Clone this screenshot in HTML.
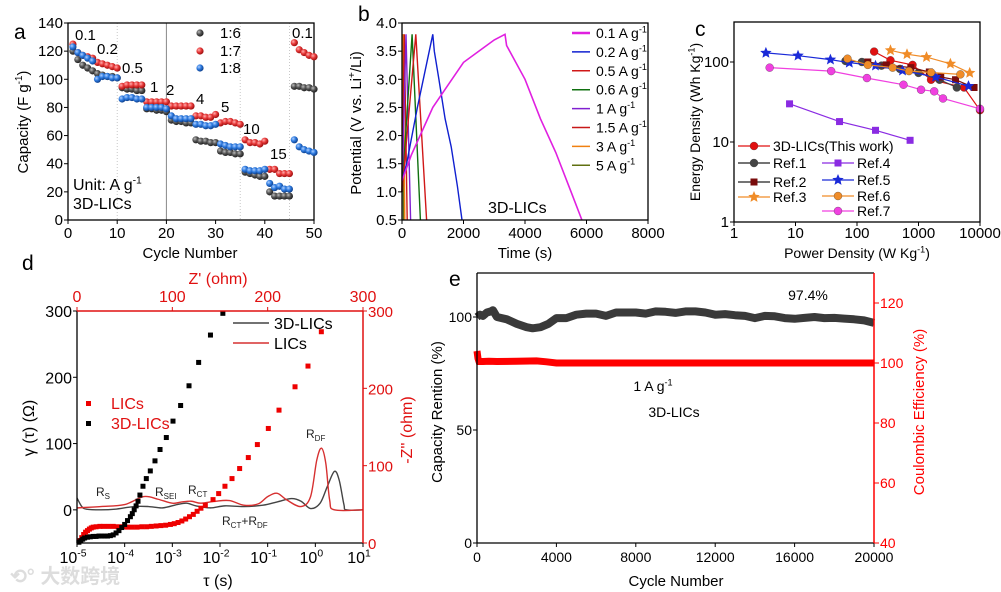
<!DOCTYPE html>
<html><head><meta charset="utf-8">
<style>
html,body{margin:0;padding:0;background:#fff;}
svg{display:block;font-family:"Liberation Sans","Noto Sans CJK SC",sans-serif;}
</style></head>
<body>
<svg id="fig" width="1001" height="592" viewBox="0 0 1001 592" xmlns="http://www.w3.org/2000/svg">
<defs>
<radialGradient id="gGray" cx="35%" cy="35%" r="65%"><stop offset="0" stop-color="#bbb"/><stop offset="0.5" stop-color="#555"/><stop offset="1" stop-color="#222"/></radialGradient>
<radialGradient id="gRed" cx="35%" cy="35%" r="65%"><stop offset="0" stop-color="#ffb0b0"/><stop offset="0.5" stop-color="#e83a3a"/><stop offset="1" stop-color="#a01010"/></radialGradient>
<radialGradient id="gBlue" cx="35%" cy="35%" r="65%"><stop offset="0" stop-color="#b0d0ff"/><stop offset="0.5" stop-color="#2e7be0"/><stop offset="1" stop-color="#10428f"/></radialGradient>
</defs>
</svg>
<script>
// ---------- DATA: panel a ----------
const aCycles=[1,2,3,4,5,6,7,8,9,10,11,12,13,14,15,16,17,18,19,20,21,22,23,24,25,26,27,28,29,30,31,32,33,34,35,36,37,38,39,40,41,42,43,44,45,46,47,48,49,50];
const a16=[120,114,110,108,106,104,103,102,102,101,94,93,93,92,92,79,79,78,78,77,71,70,70,69,69,57,56,56,55,55,49,48,48,47,47,34,33,32,31,31,20,17,17,17,17,95,95,94,94,93];
const a17=[125,119,117,116,115,112,111,110,109,108,95,96,96,96,96,84,84,84,84,84,81,81,81,81,81,74,74,73,73,75,69,70,70,69,68,57,55,55,54,56,36,36,33,33,33,126,121,119,117,116];
const a18=[123,119,117,115,113,100,102,102,101,101,86,87,87,86,86,80,80,80,80,79,74,72,72,72,72,68,68,67,67,68,54,53,52,52,52,36,35,35,35,36,26,23,24,22,22,57,52,50,49,48];
const aRateLabels=["0.1","0.2","0.5","1","2","4","5","10","15","0.1"];
const aXTicks=[0,10,20,30,40,50];
const aYTicks=[0,20,40,60,80,100,120,140];
// ---------- DATA: panel b ----------
const bNames=["0.1 A g","0.2 A g","0.5 A g","0.6 A g","1 A g","1.5 A g","3 A g","5 A g"];
const bColors=["#e020e0","#1020d0","#d01818","#107010","#8020d0","#c81818","#f08010","#607010"];
const bT=[[0,300,1000,1500,2000,2500,3000,3350,3400,4000,4500,5000,5500,5850],[0,150,500,1000,1050,1200,1400,1600,1800,1950],[0,450,800],[0,330,600],[0,130,280],[0,75,170],[0,40,90],[0,20,50]];
const bV=[[1.2,1.65,2.5,2.9,3.3,3.5,3.7,3.8,3.6,3.0,2.3,1.7,1.0,0.5],[1.2,1.5,2.5,3.8,3.5,3.0,2.3,1.8,1.1,0.5],[1.0,3.8,0.5],[1.0,3.8,0.5],[1.0,3.8,0.5],[1.0,3.8,0.5],[1.0,3.8,0.5],[1.0,3.8,0.5]];
const bXTicks=[0,2000,4000,6000,8000];
const bYTicks=[0.5,1.0,1.5,2.0,2.5,3.0,3.5,4.0];
// ---------- DATA: panel c ----------
const cNames=["3D-LICs(This work)","Ref.1","Ref.2","Ref.3","Ref.4","Ref.5","Ref.6","Ref.7"];
const cColors=["#e01010","#444444","#7a0c0c","#f08c28","#8a2be2","#1a2ad8","#f08c28","#f040e0"];
const cMarks=["circle","circle","square","star","square","star","circle","circle"];
const cP=[[190,350,800,1600,5500,10000],[65,120,250,500,1000,2200,4200],[150,300,750,1500,2300,4000,8000],[350,650,1350,3300,6800],[8,52,200,730],[3.3,11,37,75,200,550,1900,6500],[70,150,380,700,1600,4800],[3.8,38,145,570,1100,1800,2500,10000]];
const cE=[[135,105,92,60,48,25],[103,100,90,82,73,60,48],[100,92,85,75,65,60,48],[140,125,115,95,73],[30,18,14,10.5],[130,120,107,98,90,78,65,50],[110,92,85,77,74,70],[85,77,63,52,45,43,35,26]];
const cXTicks=[1,10,100,1000,10000];
const cYTicks=[1,10,100];
// ---------- DATA: panel d ----------
const dBlackZr=[2,4,6,8,11,14,17,20,23,26,29,32,35,38,41,44,47,50,53,56,58,60,62,64,66,69.2,72.7,76.9,81.8,87.1,93.7,100.7,108.7,117.5,127.6,140,153];
const dBlackZi=[1,3,5,6.5,7.5,8,8.5,8.5,9,9,9,9,9.5,10.5,13,16,20,24,29,34,38,43,48,54,62,73.4,83.3,93.2,106.2,120.9,136.4,157.6,177.8,203.3,233.5,268.9,297];
const dRedZr=[3,5,7,9,11,13,15,17,20,24,28,33,38,43,48,53,58,63,68,73,78,83,88,93,98,102,106,110,114,118,122,126,130,134.6,142.7,148.6,155.2,162.6,170.6,179.7,189.2,200.7,211.9,228.7,242.3,256.3];
const dRedZi=[3,7,11,14,16,18,19.5,20.5,21,21.5,21.5,21.5,21.5,21,21,20.5,20.5,20.5,21,21,21.5,22,22.5,23,24,25,26.5,28.5,31,34,37,41,45,48.8,56.1,63.9,73.4,83.3,96.3,110.5,127.3,148.1,171.8,202,228.8,273.2];
const dBlkLogT=[-5,-4.9,-4.8,-4.5,-4.2,-3.8,-3.5,-3.2,-2.9,-2.7,-2.5,-2.2,-1.9,-1.5,-1.1,-0.8,-0.5,-0.3,-0.1,0.1,0.25,0.4,0.5,0.6,0.65,1];
const dBlkG=[18,5,1,0,1,5,5,3,8,10,6,3,6,5,7,12,17,13,2,10,35,58,45,8,0,0];
const dRedLogT=[-5,-4.5,-4,-3.6,-3.3,-3,-2.8,-2.6,-2.4,-2.1,-1.8,-1.5,-1.2,-1,-0.8,-0.6,-0.3,-0.1,0.03,0.13,0.22,0.3,0.4,1];
const dRedG=[3,5,8,20,16,10,12,13,10,13,14,7,9,20,25,15,5,20,75,93,70,15,0,0];
const dLeftTicks=[0,100,200,300];
const dRightTicks=[0,100,200,300];
const dTopTicks=[0,100,200,300];
const dBottomExp=[-5,-4,-3,-2,-1,0,1];
// ---------- DATA: panel e ----------
const eCycles=[0,150,300,500,700,800,1000,1500,2000,2500,2800,3200,3600,4000,4500,5000,5500,6000,6500,7000,7500,8000,8500,9000,9500,10000,10500,11000,11500,12000,12500,13000,13500,14000,14500,15000,15500,16000,16500,17000,17500,18000,18500,19000,19500,20000];
const eRet=[100,101,100.5,102,102.5,103,100,99,97,95.5,95,95.5,97,99.5,99.5,101,101.5,101.5,100.5,102,102,102,101.5,102.5,102.3,101.8,102.5,102.5,102,101,101.3,100.8,100.5,99.5,100.5,100.3,99.5,99.2,99.6,100,99.5,99.6,99.3,99,98.5,97.4];
const eCECycles=[0,50,100,300,600,1000,2000,3000,3500,4000,6000,8000,10000,12000,14000,16000,18000,20000];
const eCE=[104,101.5,100.5,100.5,100.6,100.5,100.6,100.7,100.4,100,100,100,100,100,100,100,100,100];
const eXTicks=[0,4000,8000,12000,16000,20000];
const eLeftTicks=[0,50,100];
const eRightTicks=[40,60,80,100,120];

// ---------- helpers ----------
const NS="http://www.w3.org/2000/svg";
const svg=document.getElementById('fig');
function mk(tag,attrs,parent){const e=document.createElementNS(NS,tag);for(const k in attrs)e.setAttribute(k,attrs[k]);(parent||svg).appendChild(e);return e;}
function lin(d0,d1,r0,r1){return v=>r0+(v-d0)/(d1-d0)*(r1-r0);}
function group(name){const g=mk('g',{});return g;}
function label(g,x,y,s,size,anchor,fill,name,extra){
  const t=mk('text',Object.assign({x:x,y:y,'font-size':size,'text-anchor':anchor||'start',fill:fill||'#000'},extra||{}),g);
  t.textContent=s;
  
  
  return t;
}
function supLabel(g,x,y,base,sup,tail,size,anchor,fill,name,rot){
  const attrs={x:x,y:y,'font-size':size,'text-anchor':anchor||'start',fill:fill||'#000'};
  if(rot)attrs.transform=rot;
  const t=mk('text',attrs,g);
  
  
  const a=mk('tspan',{},t);a.textContent=base;
  const b=mk('tspan',{dy:-size*0.4,'font-size':size*0.65},t);b.textContent=sup;
  if(tail){const c=mk('tspan',{dy:size*0.4},t);c.textContent=tail;}
  return t;
}
function smooth(pts){let d='M'+pts[0][0]+','+pts[0][1];for(let i=0;i<pts.length-1;i++){const p0=pts[Math.max(0,i-1)],p1=pts[i],p2=pts[i+1],p3=pts[Math.min(pts.length-1,i+2)];const c1=[p1[0]+(p2[0]-p0[0])/6,p1[1]+(p2[1]-p0[1])/6];const c2=[p2[0]-(p3[0]-p1[0])/6,p2[1]-(p3[1]-p1[1])/6];d+=' C'+c1[0]+','+c1[1]+' '+c2[0]+','+c2[1]+' '+p2[0]+','+p2[1];}return d;}
function star(cx,cy,r){let p=[];for(let i=0;i<10;i++){const rr=i%2?r*0.45:r;const a=-Math.PI/2+i*Math.PI/5;p.push((cx+rr*Math.cos(a)).toFixed(1)+','+(cy+rr*Math.sin(a)).toFixed(1));}return p.join(' ');}

// ================= PANEL A =================
(function(){
const g=group('panel-a');
const L=68,R=314,T=23,B=220;
const xa=lin(0,50,L,R), ya=lin(0,140,B,T);
label(g,14,39,'a',21,'start','#000','panel-a-letter');
[10,35,45].forEach(c=>{const l=mk('line',{x1:xa(c),x2:xa(c),y1:T,y2:B,stroke:'#bbb','stroke-width':0.8,'stroke-dasharray':'1,2'},g);});
const dv=mk('line',{x1:xa(20),x2:xa(20),y1:T,y2:B,stroke:'#888','stroke-width':1},g);


const fr=mk('rect',{x:L,y:T,width:R-L,height:B-T,fill:'none',stroke:'#000','stroke-width':1.3},g);


aXTicks.forEach(v=>{const l=mk('line',{x1:xa(v),x2:xa(v),y1:B,y2:B+4,stroke:'#000'},g);label(g,xa(v),238,String(v),15,'middle','#000','x-tick-label');});
aYTicks.forEach(v=>{const l=mk('line',{x1:L-4,x2:L,y1:ya(v),y2:ya(v),stroke:'#000'},g);label(g,L-5,ya(v)+5,String(v),15,'end','#000','y-tick-label');});
supLabel(g,0,0,'Capacity (F g','-1',')',15,'middle','#000','y-axis-title','translate(28,122) rotate(-90)');
label(g,190,258,'Cycle Number',15,'middle','#000','x-axis-title');
const series=[[a16,'url(#gGray)','series-1-6'],[a17,'url(#gRed)','series-1-7'],[a18,'url(#gBlue)','series-1-8']];
series.forEach(s=>{aCycles.forEach((c,i)=>{const m=mk('circle',{cx:xa(c),cy:ya(s[0][i]),r:3.6,fill:s[1]},g);});});
const rl=[[75,40],[97,54],[122,73],[150,92],[166,95],[196,104],[221,112],[243,134],[270,159],[292,38]];
aRateLabels.forEach((s,i)=>label(g,rl[i][0],rl[i][1],s,15,'start','#000','rate-label'));
const lg=[['1:6','url(#gGray)',33],['1:7','url(#gRed)',51],['1:8','url(#gBlue)',68]];
lg.forEach(e=>{const m=mk('circle',{cx:200,cy:e[2],r:3.6,fill:e[1]},g);label(g,220,e[2]+5,e[0],15,'start','#000','legend-entry');});
supLabel(g,73,190,'Unit: A g','-1','',16,'start','#000','unit-label');
label(g,73,209,'3D-LICs',16,'start','#000','sample-label-a');
})();

// ================= PANEL B =================
(function(){
const g=group('panel-b');
const L=402,R=648,T=23,B=220;
const xb=lin(0,8000,L,R), yb=lin(0.5,4,B,T);
label(g,358,21,'b',21,'start','#000','panel-b-letter');
for(let i=bT.length-1;i>=0;i--){const pts=bT[i].map((t,j)=>xb(t).toFixed(1)+','+yb(bV[i][j]).toFixed(1)).join(' ');const p=mk('polyline',{points:pts,fill:'none',stroke:bColors[i],'stroke-width':i==0?1.6:1.4},g);}
const fr=mk('rect',{x:L,y:T,width:R-L,height:B-T,fill:'none',stroke:'#000','stroke-width':1.3},g);


bXTicks.forEach(v=>{const l=mk('line',{x1:xb(v),x2:xb(v),y1:B,y2:B+4,stroke:'#000'},g);label(g,xb(v),238,String(v),15,'middle','#000','x-tick-label');});
bYTicks.forEach(v=>{const l=mk('line',{x1:L-4,x2:L,y1:yb(v),y2:yb(v),stroke:'#000'},g);label(g,L-5,yb(v)+5,v.toFixed(1),15,'end','#000','y-tick-label');});
const yt=mk('text',{transform:'translate(361,123) rotate(-90)','font-size':15,'text-anchor':'middle'},g);


yt.innerHTML='<tspan>Potential  (V vs. Li</tspan><tspan dy="-6" font-size="10">+</tspan><tspan dy="6">/Li)</tspan>';
label(g,525,258,'Time (s)',15,'middle','#000','x-axis-title');
label(g,488,213,'3D-LICs',16,'start','#000','sample-label-b');
bNames.forEach((n,i)=>{const y=33+i*18.9;const l=mk('line',{x1:572,x2:590,y1:y,y2:y,stroke:bColors[i],'stroke-width':i==0?2.5:1.5},g);supLabel(g,596,y+5,n,'-1','',14,'start','#000','legend-entry');});
})();

// ================= PANEL C =================
(function(){
const g=group('panel-c');
const L=734,R=980,T=22,B=222;
const xc=v=>L+Math.log10(v)*61.5, yc=v=>B-Math.log10(v)*80;
label(g,695,36,'c',21,'start','#000','panel-c-letter');
function marker(kind,x,y,col,parent){let m;if(kind=='circle')m=mk('circle',{cx:x,cy:y,r:4,fill:col,stroke:'#333','stroke-width':0.3},parent);else if(kind=='square')m=mk('rect',{x:x-3.5,y:y-3.5,width:7,height:7,fill:col},parent);else m=mk('polygon',{points:star(x,y,6),fill:col},parent);return m;}
cP.forEach((arr,i)=>{const pts=arr.map((p,j)=>xc(p).toFixed(1)+','+yc(cE[i][j]).toFixed(1)).join(' ');const pl=mk('polyline',{points:pts,fill:'none',stroke:cColors[i],'stroke-width':1.2},g);arr.forEach((p,j)=>{const m=marker(cMarks[i],xc(p),yc(cE[i][j]),cColors[i],g);});});
const fr=mk('rect',{x:L,y:T,width:R-L,height:B-T,fill:'none',stroke:'#000','stroke-width':1.3},g);


cXTicks.forEach(v=>{const l=mk('line',{x1:xc(v),x2:xc(v),y1:B,y2:B+4,stroke:'#000'},g);label(g,xc(v),238,String(v),15,'middle','#000','x-tick-label');});
cYTicks.forEach(v=>{const l=mk('line',{x1:L-4,x2:L,y1:yc(v),y2:yc(v),stroke:'#000'},g);label(g,L-5,yc(v)+5,String(v),15,'end','#000','y-tick-label');});
supLabel(g,0,0,'Energy Density (Wh Kg','-1',')',14,'middle','#000','y-axis-title','translate(700,122) rotate(-90)');
supLabel(g,857,258,'Power Density (W Kg','-1',')',14,'middle','#000','x-axis-title');
const lp=[[738,146,0],[738,163,1],[738,182,2],[738,197,3],[822,163,4],[822,180,5],[822,196,6],[822,211,7]];
lp.forEach(e=>{const i=e[2];const l=mk('line',{x1:e[0],x2:e[0]+32,y1:e[1],y2:e[1],stroke:(i==1||i==2)?'#222':cColors[i],'stroke-width':1.3},g);const m=marker(cMarks[i],e[0]+16,e[1],cColors[i],g);label(g,e[0]+35,e[1]+5,cNames[i],14,'start','#000','legend-entry');});
})();

// ================= PANEL D =================
(function(){
const g=group('panel-d');
const L=77,R=363,T=311,B=543;
const xz=lin(0,300,L,R), yz=lin(0,300,B,T);
const xt=lt=>L+(lt+5)*(R-L)/6, yg=lin(-50,300,B,T);
label(g,22,270,'d',21,'start','#000','panel-d-letter');
const bl=dBlkLogT.map((t,i)=>[xt(t),yg(dBlkG[i])]);
const p1=mk('path',{d:smooth(bl),fill:'none',stroke:'#444','stroke-width':1.4},g);


const rl=dRedLogT.map((t,i)=>[xt(t),yg(dRedG[i])]);
const p2=mk('path',{d:smooth(rl),fill:'none',stroke:'#d63030','stroke-width':1.4},g);


dRedZr.forEach((z,i)=>{const m=mk('rect',{x:xz(z)-2.5,y:yz(dRedZi[i])-2.5,width:5,height:5,fill:'#ee0000'},g);});
dBlackZr.forEach((z,i)=>{const m=mk('rect',{x:xz(z)-2.5,y:yz(dBlackZi[i])-2.5,width:5,height:5,fill:'#000'},g);});
const lf=mk('line',{x1:L,x2:L,y1:T,y2:B,stroke:'#000','stroke-width':1.3},g);


const bf=mk('line',{x1:L,x2:R,y1:B,y2:B,stroke:'#000','stroke-width':1.3},g);


const tf=mk('line',{x1:L,x2:R,y1:T,y2:T,stroke:'#e01010','stroke-width':1.5},g);


const rf=mk('line',{x1:R,x2:R,y1:T,y2:B,stroke:'#e01010','stroke-width':1.5},g);


dLeftTicks.forEach(v=>{const l=mk('line',{x1:L-4,x2:L,y1:yg(v),y2:yg(v),stroke:'#000'},g);label(g,L-5,yg(v)+6,String(v),16,'end','#000','y-tick-label');});
dRightTicks.forEach(v=>{const l=mk('line',{x1:R,x2:R+4,y1:yz(v),y2:yz(v),stroke:'#e01010'},g);label(g,R+5,yz(v)+6,String(v),15,'start','#e01010','right-tick-label');});
dTopTicks.forEach(v=>{const l=mk('line',{x1:xz(v),x2:xz(v),y1:T-4,y2:T,stroke:'#e01010'},g);label(g,xz(v),302,String(v),16,'middle','#e01010','top-tick-label');});
dBottomExp.forEach(v=>{const l=mk('line',{x1:xt(v),x2:xt(v),y1:B,y2:B+4,stroke:'#000'},g);supLabel(g,xt(v)-4,563,'10',String(v),'',16,'middle','#000','x-tick-label');});
label(g,218,284,"Z' (ohm)",16,'middle','#e01010','top-axis-title');
label(g,0,0,"-Z'' (ohm)",16,'middle','#e01010','right-axis-title',{transform:'translate(412,430) rotate(-90)'});
label(g,0,0,'γ (τ) (Ω)',16,'middle','#000','y-axis-title',{transform:'translate(34,428) rotate(-90)'});
label(g,218,586,'τ (s)',16,'middle','#000','x-axis-title');
const l1=mk('line',{x1:233,x2:269,y1:323,y2:323,stroke:'#444','stroke-width':1.5},g);


label(g,274,329,'3D-LICs',16,'start','#000','legend-entry');
const l2=mk('line',{x1:233,x2:269,y1:343,y2:343,stroke:'#d63030','stroke-width':1.5},g);


label(g,274,349,'LICs',16,'start','#000','legend-entry');
const s1=mk('rect',{x:86,y:401,width:5,height:5,fill:'#ee0000'},g);


const s2=mk('rect',{x:86,y:421,width:5,height:5,fill:'#000'},g);


label(g,111,409,'LICs',16,'start','#e01010','legend-entry');
label(g,111,429,'3D-LICs',16,'start','#e01010','legend-entry');
const sub=[[96,496,'R','S'],[155,496,'R','SEI'],[188,494,'R','CT'],[306,438,'R','DF']];
sub.forEach(s=>{const t=mk('text',{x:s[0],y:s[1],'font-size':12,fill:'#222'},g);t.innerHTML='<tspan>'+s[2]+'</tspan><tspan dy="3" font-size="8">'+s[3]+'</tspan>';});
const t2=mk('text',{x:222,y:525,'font-size':12,fill:'#222'},g);


t2.innerHTML='<tspan>R</tspan><tspan dy="3" font-size="8">CT</tspan><tspan dy="-3">+R</tspan><tspan dy="3" font-size="8">DF</tspan>';
label(g,10,583,'⟲° 大数跨境',20,'start','#ddd','watermark',{'font-weight':'bold'});
})();

// ================= PANEL E =================
(function(){
const g=group('panel-e');
const L=477,R=874,T=273,B=543;
const xe=lin(0,20000,L,R), yl=lin(0,100,B,317), yr=lin(40,120,B,303);
label(g,449,286,'e',21,'start','#000','panel-e-letter');
const ce=mk('polyline',{points:eCECycles.map((c,i)=>xe(c).toFixed(1)+','+yr(eCE[i]).toFixed(1)).join(' '),fill:'none',stroke:'#ff0000','stroke-width':7},g);


const rt=mk('polyline',{points:eCycles.map((c,i)=>xe(c).toFixed(1)+','+yl(eRet[i]).toFixed(1)).join(' '),fill:'none',stroke:'#3a3a3a','stroke-width':8,'stroke-linejoin':'round'},g);


const lf=mk('polyline',{points:L+','+T+' '+L+','+B+' '+R+','+B,fill:'none',stroke:'#000','stroke-width':1.3},g);


const tf=mk('line',{x1:L,x2:R,y1:T,y2:T,stroke:'#000','stroke-width':1.3},g);


const rf=mk('line',{x1:R,x2:R,y1:T,y2:B,stroke:'#ff0000','stroke-width':1.5},g);


eXTicks.forEach(v=>{const l=mk('line',{x1:xe(v),x2:xe(v),y1:B,y2:B+4,stroke:'#000'},g);label(g,xe(v),562,String(v),14,'middle','#000','x-tick-label');});
eLeftTicks.forEach(v=>{const l=mk('line',{x1:L-4,x2:L,y1:yl(v),y2:yl(v),stroke:'#000'},g);label(g,L-5,yl(v)+5,String(v),14,'end','#000','y-tick-label');});
eRightTicks.forEach(v=>{const l=mk('line',{x1:R,x2:R+5,y1:yr(v),y2:yr(v),stroke:'#ff0000'},g);label(g,R+6,yr(v)+5,String(v),14,'start','#ff0000','right-tick-label');});
label(g,676,586,'Cycle Number',15,'middle','#000','x-axis-title');
label(g,0,0,'Capacity Rention (%)',15,'middle','#000','y-axis-title',{transform:'translate(442,412) rotate(-90)'});
label(g,0,0,'Coulombic Efficiency (%)',15,'middle','#ff0000','right-axis-title',{transform:'translate(924,412) rotate(-90)'});
label(g,808,300,'97.4%',14,'middle','#000','retention-value');
supLabel(g,653,391,'1 A g','-1','',14,'middle','#000','current-label');
label(g,674,417,'3D-LICs',14,'middle','#000','sample-label-e');
})();
</script>
</body></html>
